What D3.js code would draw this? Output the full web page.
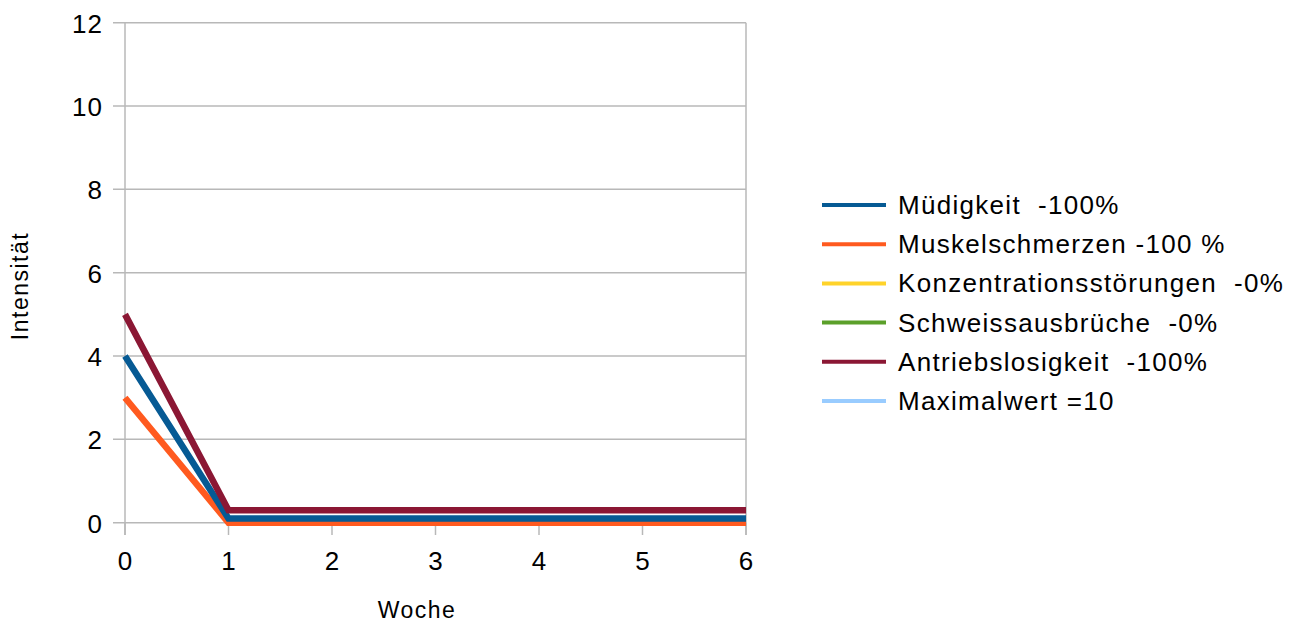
<!DOCTYPE html>
<html><head><meta charset="utf-8">
<script src="https://cdn.jsdelivr.net/npm/d3@7"></script>
<style>body{margin:0;background:#fff;} text{font-family:"Liberation Sans",Arial,sans-serif;}</style>
</head><body>
<svg id="c" width="1303" height="622"></svg>
<script>
const weeks = [0,1,2,3,4,5,6];
const seriesNames = ["Müdigkeit  -100%","Muskelschmerzen -100 %","Konzentrationsstörungen  -0%","Schweissausbrüche  -0%","Antriebslosigkeit  -100%","Maximalwert =10"];
const seriesColors = ["#065a94","#ff5a1f","#ffd32a","#5ba02a","#8b1734","#99ccff"];
const muedigkeit = [4,0.1,0.1,0.1,0.1,0.1,0.1];
const muskelschmerzen = [3,0,0,0,0,0,0];
const konzentration = [null,null,null,null,null,null,null];
const schweiss = [null,null,null,null,null,null,null];
const antrieb = [5,0.3,0.3,0.3,0.3,0.3,0.3];
const maximalwert = [null,null,null,null,null,null,null];
const yTicks = [0,2,4,6,8,10,12];

const allSeries = [muedigkeit,muskelschmerzen,konzentration,schweiss,antrieb,maximalwert];
const svg = d3.select("#c");
const x = d3.scaleLinear().domain([0,6]).range([125,746]);
const y = d3.scaleLinear().domain([0,12]).range([522.7,22.7]);
const grid = "#b8b8b8";

svg.append("g").selectAll("line").data(yTicks).join("line")
  .attr("x1",113).attr("x2",746).attr("y1",d=>y(d)).attr("y2",d=>y(d))
  .attr("stroke",grid).attr("stroke-width",1.5);
svg.append("line").attr("x1",746).attr("x2",746).attr("y1",y(12)).attr("y2",535)
  .attr("stroke",grid).attr("stroke-width",1.5);
svg.append("line").attr("x1",125).attr("x2",125).attr("y1",y(12)).attr("y2",535)
  .attr("stroke",grid).attr("stroke-width",1.5);
svg.append("g").selectAll("line").data(weeks).join("line")
  .attr("x1",d=>x(d)).attr("x2",d=>x(d)).attr("y1",y(0)).attr("y2",535)
  .attr("stroke",grid).attr("stroke-width",1.5);

svg.append("g").selectAll("text").data(yTicks).join("text")
  .attr("x",103).attr("y",d=>y(d)+10).attr("text-anchor","end")
  .attr("font-size",26).attr("letter-spacing",1).attr("fill","#000").text(d=>d);
svg.append("g").selectAll("text").data(weeks).join("text")
  .attr("x",d=>x(d)).attr("y",570).attr("text-anchor","middle")
  .attr("font-size",26).attr("fill","#000").text(d=>d);

svg.append("text").attr("transform","translate(28,286) rotate(-90)")
  .attr("text-anchor","middle").attr("font-size",23).attr("letter-spacing",1.5)
  .text("Intensität");
svg.append("text").attr("x",417).attr("y",618)
  .attr("text-anchor","middle").attr("font-size",23).attr("letter-spacing",1.5)
  .text("Woche");

const line = d3.line().defined(d=>d[1]!=null).x(d=>x(d[0])).y(d=>y(d[1]));
const order = [1,0,2,3,4,5];
order.forEach(i=>{
  const data = weeks.map((w,j)=>[w,allSeries[i][j]]);
  svg.append("path").attr("d",line(data)).attr("fill","none")
    .attr("stroke",seriesColors[i]).attr("stroke-width",6.5)
    .attr("stroke-linejoin","miter");
});

const lg = svg.append("g");
seriesNames.forEach((n,i)=>{
  const yy = 205 + i*39.2;
  lg.append("line").attr("x1",822).attr("x2",886).attr("y1",yy).attr("y2",yy)
    .attr("stroke",seriesColors[i]).attr("stroke-width",4);
  lg.append("text").attr("x",898).attr("y",yy+9).attr("font-size",26)
    .attr("letter-spacing",1.3)
    .style("white-space","pre").attr("xml:space","preserve").text(n);
});
</script>
</body></html>
